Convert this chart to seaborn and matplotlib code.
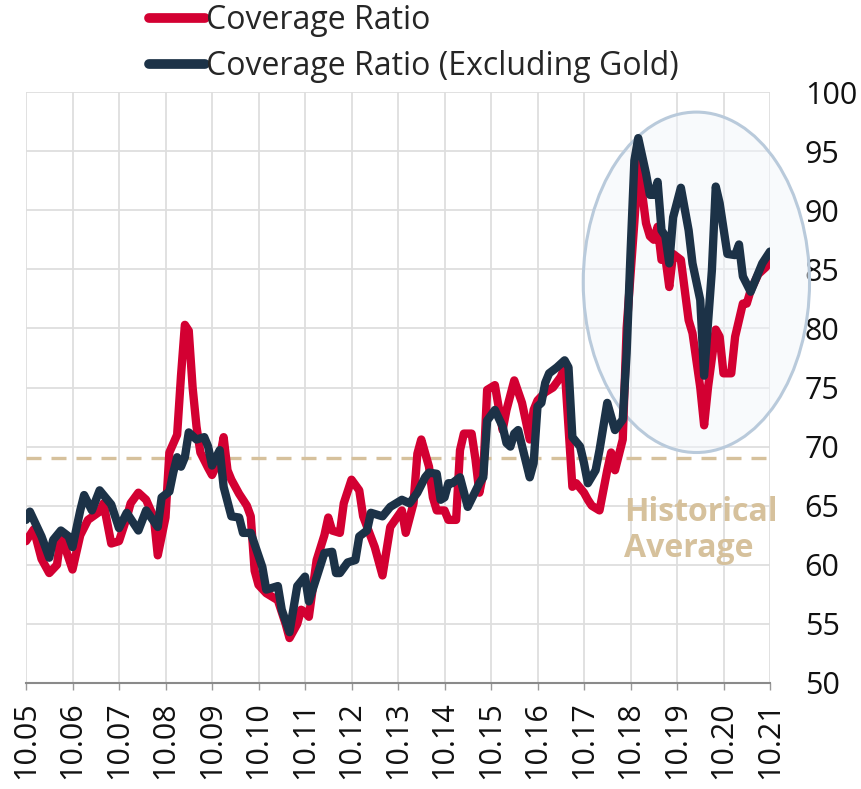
import pandas as pd
import matplotlib.pyplot as plt
from matplotlib.patches import Ellipse
import seaborn as sns

# month index: 0 = Oct 2005, 192 = Oct 2021
ratio_month = [0, 2, 4, 6, 8, 9, 12, 14, 16, 19, 20, 22, 24, 26, 27, 29, 31, 33, 34, 36,
               37, 39, 40, 41, 42, 43, 44, 45, 47, 48, 50, 51, 52, 53, 55, 57, 58, 59, 60, 62,
               65, 67, 68, 70, 71, 72, 73, 75, 77, 78, 79, 81, 82, 84, 86, 87, 90, 92, 94, 97,
               98, 100, 101, 102, 104, 105, 106, 108, 109, 111, 112, 113, 115, 116, 117, 118, 119, 121, 123, 124,
               126, 128, 130, 131, 132, 134, 136, 138, 139, 141, 142, 144, 145, 146, 148, 150, 151, 152, 154, 155,
               157, 158, 160, 161, 162, 163, 164, 165, 166, 167, 169, 171, 172, 174, 175, 176, 178, 179, 180, 182,
               183, 185, 186, 187, 189, 191, 192]
ratio_value = [62.0, 63.0, 60.5, 59.3, 60.0, 62.5, 59.6, 62.5, 63.8, 64.5, 65.2, 61.8, 62.0, 64.0, 65.2, 66.1, 65.5, 64.0, 60.8, 64.0,
               69.5, 71.0, 76.0, 80.3, 79.8, 75.0, 71.7, 69.5, 68.2, 67.6, 69.0, 70.8, 68.0, 67.2, 66.0, 65.0, 64.1, 59.5, 58.3, 57.6,
               57.0, 55.0, 53.8, 55.0, 56.2, 56.0, 55.6, 60.4, 62.5, 64.0, 62.9, 62.7, 65.2, 67.2, 66.3, 64.1, 61.5, 59.1, 63.2, 64.6,
               62.7, 65.2, 69.4, 70.6, 68.3, 65.7, 64.6, 64.6, 63.8, 63.8, 69.7, 71.1, 71.1, 68.9, 66.1, 67.7, 74.8, 75.2, 71.4, 73.1,
               75.6, 73.7, 70.6, 73.1, 73.9, 74.6, 75.0, 75.9, 76.7, 66.6, 66.9, 66.1, 65.5, 65.0, 64.6, 68.0, 69.5, 68.0, 70.6, 80.0,
               89.0, 94.0, 88.9, 87.8, 87.5, 88.6, 85.8, 86.0, 83.5, 86.3, 85.8, 80.7, 79.6, 75.0, 71.8, 75.0, 79.9, 79.3, 76.2, 76.2,
               79.3, 82.1, 82.1, 83.2, 84.6, 85.2, 86.0]

ex_gold_month = [0, 1, 4, 6, 7, 9, 11, 12, 14, 15, 17, 19, 22, 24, 26, 29, 31, 34, 35, 37,
                 38, 39, 40, 41, 42, 44, 46, 47, 48, 50, 51, 53, 55, 56, 58, 61, 62, 65, 66, 68,
                 70, 72, 73, 77, 79, 80, 81, 83, 85, 86, 88, 89, 92, 94, 97, 99, 101, 103, 104, 106,
                 107, 108, 109, 110, 112, 114, 117, 118, 119, 121, 123, 124, 125, 126, 127, 130, 131, 132, 133, 134,
                 135, 137, 139, 140, 141, 143, 144, 145, 147, 148, 150, 152, 154, 155, 156, 157, 158, 160, 161, 162,
                 163, 164, 165, 166, 167, 169, 171, 172, 174, 175, 177, 178, 179, 181, 183, 184, 185, 187, 189, 190,
                 192]
ex_gold_value = [63.8, 64.5, 62.4, 60.6, 62.1, 62.9, 62.4, 61.5, 64.6, 65.9, 64.6, 66.3, 65.1, 63.1, 64.4, 62.9, 64.6, 63.2, 65.7, 66.2,
                 67.8, 69.1, 68.3, 69.1, 71.2, 70.6, 70.8, 70.0, 68.4, 69.7, 66.6, 64.1, 64.0, 62.7, 62.7, 59.8, 57.9, 58.2, 56.2, 54.3,
                 58.2, 59.0, 56.9, 61.0, 61.1, 59.3, 59.3, 60.2, 60.4, 62.4, 62.9, 64.4, 64.1, 64.9, 65.5, 65.2, 66.1, 67.4, 67.8, 67.7,
                 65.5, 65.7, 66.9, 66.9, 67.4, 64.9, 66.9, 67.4, 72.2, 73.1, 71.7, 70.3, 70.0, 71.1, 71.4, 67.4, 68.6, 73.4, 73.7, 75.4,
                 76.2, 76.7, 77.3, 76.7, 70.8, 70.0, 68.6, 66.9, 68.0, 69.7, 73.7, 71.4, 72.3, 77.9, 86.3, 94.2, 96.1, 93.1, 91.3, 91.3,
                 92.4, 88.3, 87.8, 85.5, 89.4, 91.9, 88.3, 85.5, 82.4, 76.0, 84.9, 92.0, 90.6, 86.3, 86.2, 87.1, 84.4, 83.1, 84.7, 85.5,
                 86.5]

tick_months = [0, 12, 24, 36, 48, 60, 72, 84, 96, 108, 120, 132, 144, 156, 168, 180, 192]
tick_labels = ['10.05', '10.06', '10.07', '10.08', '10.09', '10.10', '10.11', '10.12', '10.13',
               '10.14', '10.15', '10.16', '10.17', '10.18', '10.19', '10.20', '10.21']
y_ticks = [50, 55, 60, 65, 70, 75, 80, 85, 90, 95, 100]
hist_avg = 69.0

RED = '#d30032'
NAVY = '#1c3247'
TAN = '#d6c19c'

sns.set_theme(style='whitegrid')
plt.rcParams['font.family'] = ['Open Sans', 'DejaVu Sans']

fig = plt.figure(figsize=(8.61, 7.89), dpi=100)
ax = fig.add_axes([26 / 861, 106 / 789, 744 / 861, 591 / 789])

# highlight ellipse around the 2018-2021 spike
ell = Ellipse((173, 83.9), 58.4, 28.8, facecolor='#f2f6fb', alpha=0.5, edgecolor='none', zorder=1, clip_on=False)
ax.add_patch(ell)
ell_edge = Ellipse((173, 83.9), 58.4, 28.8, facecolor='none', edgecolor='#b9cadb', lw=2.2, zorder=1.5, clip_on=False)
ax.add_patch(ell_edge)

ax.axhline(hist_avg, color=TAN, lw=2.4, dashes=(4.5, 3), zorder=2)

df_ratio = pd.DataFrame({'month': ratio_month, 'value': ratio_value})
df_ex = pd.DataFrame({'month': ex_gold_month, 'value': ex_gold_value})
sns.lineplot(data=df_ratio, x='month', y='value', ax=ax, color=RED, lw=6,
             label='Coverage Ratio', zorder=3, solid_joinstyle='round', solid_capstyle='round')
sns.lineplot(data=df_ex, x='month', y='value', ax=ax, color=NAVY, lw=6,
             label='Coverage Ratio (Excluding Gold)', zorder=4, solid_joinstyle='round', solid_capstyle='round')

ax.set_xlim(0, 192)
ax.set_ylim(50, 100)
ax.set_xticks(tick_months)
ax.set_xticklabels(tick_labels, rotation=90, fontsize=22, color='#111111')
ax.set_yticks(y_ticks)
ax.set_yticklabels([str(v) for v in y_ticks], fontsize=22, color='#111111')
ax.yaxis.tick_right()
ax.tick_params(axis='y', length=0, pad=25)
ax.tick_params(axis='x', length=5, color='#999999', width=1, pad=8, bottom=True)
ax.set_xlabel('')
ax.set_ylabel('')
ax.grid(True, color='#dedede', lw=1.3)
ax.set_facecolor('white')
for side in ['top', 'left', 'right']:
    ax.spines[side].set_visible(False)
ax.spines['bottom'].set_color('#8a8a8a')
ax.spines['bottom'].set_linewidth(1.5)

ax.text(154.4, 65.8, 'Historical\nAverage', color=TAN, fontsize=23, fontweight='bold',
        ha='left', va='top', linespacing=1.1, zorder=5)

handles, labels = ax.get_legend_handles_labels()
ax.get_legend().remove()
leg = fig.legend(handles, labels, loc='upper left', bbox_to_anchor=(149 / 861, 1 - 4 / 789),
                 frameon=False, fontsize=23, handlelength=1.75, handletextpad=0.05,
                 borderpad=0, borderaxespad=0, labelspacing=0.4)
for line in leg.get_lines():
    line.set_linewidth(7)
    line.set_solid_capstyle('round')

fig.savefig('out.png', dpi=100, facecolor='white')
